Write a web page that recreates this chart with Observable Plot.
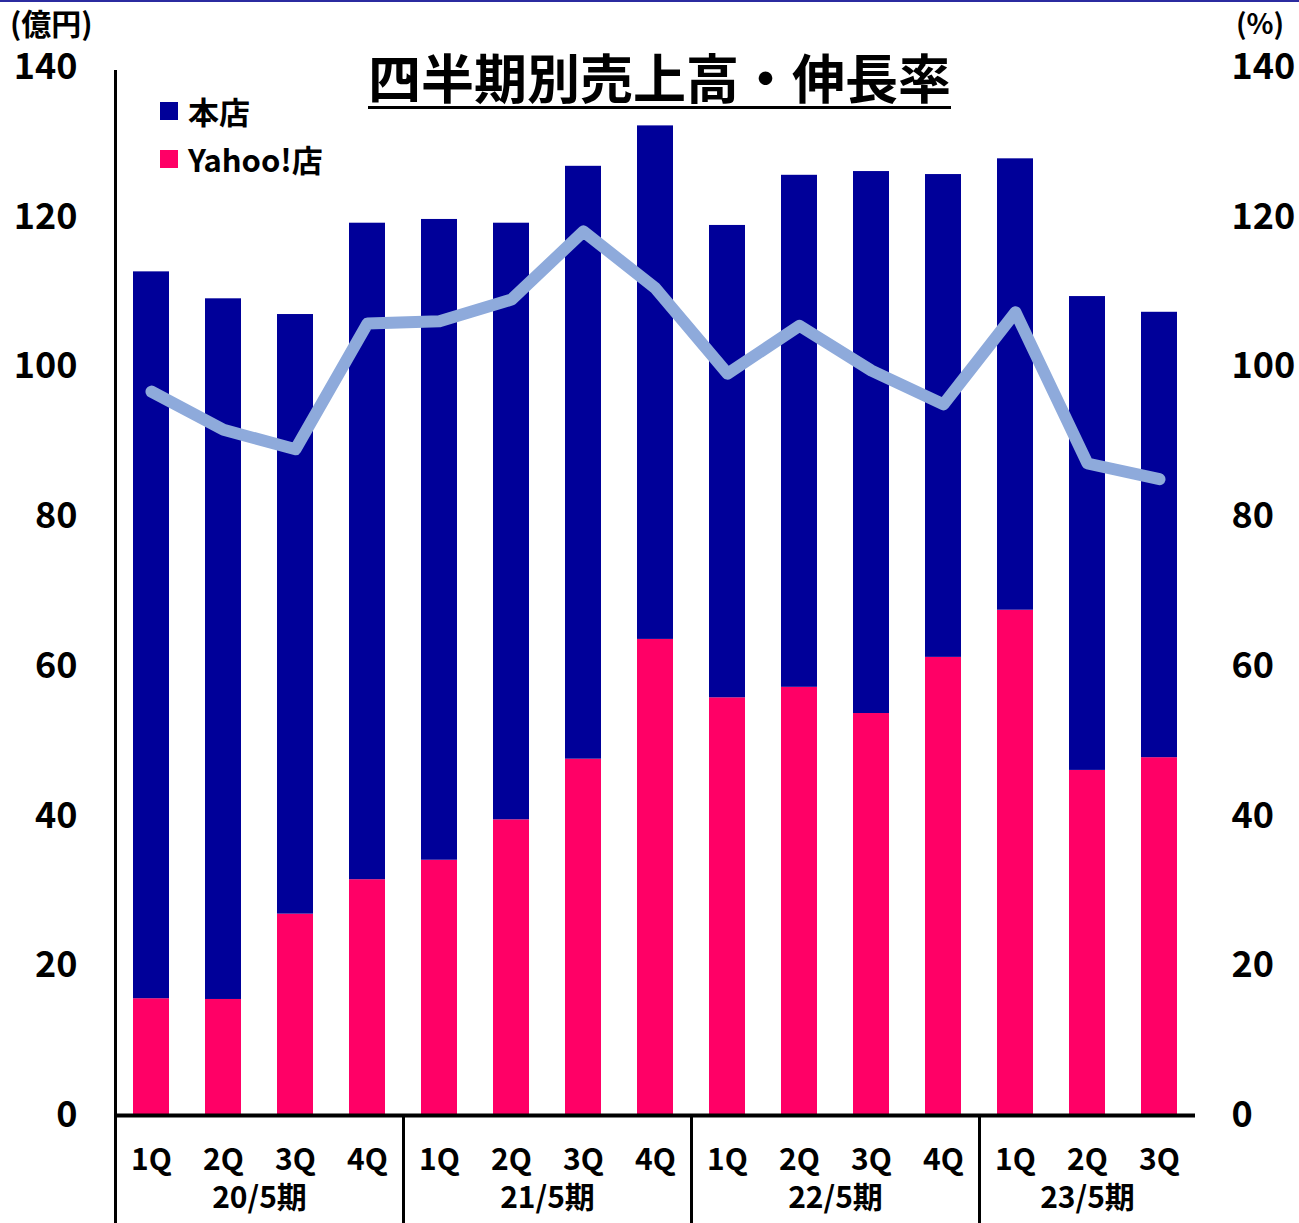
<!DOCTYPE html>
<html><head><meta charset="utf-8">
<script src="https://cdn.jsdelivr.net/npm/d3@7"></script>
<script src="https://cdn.jsdelivr.net/npm/@observablehq/plot@0.6"></script>
<style>
body{margin:0;background:#fff;}
#wrap{position:relative;width:1299px;height:1223px;font-family:'Noto Sans CJK JP',sans-serif;overflow:hidden;background:#fff;}
#topline{position:absolute;left:0;top:0;width:1299px;height:2px;background:#2b2ba0;}
.abs{position:absolute;white-space:nowrap;color:#000;}
#title{left:368px;top:46px;font-size:53px;font-weight:700;line-height:60px;border-bottom:3px solid #000;}
.unit{font-weight:700;top:8px;line-height:28px;}
.leg{font-size:31px;font-weight:700;line-height:34px;left:160px;display:flex;align-items:center;}
.leg i{display:inline-block;width:18px;height:18px;margin-right:10px;}
</style></head>
<body><div id="wrap"><div id="topline"></div></div>
<script>
const quarters = ["1Q","2Q","3Q","4Q","1Q","2Q","3Q","4Q","1Q","2Q","3Q","4Q","1Q","2Q","3Q"];
const periods = ["20/5期","21/5期","22/5期","23/5期"];
const periodQuarterCounts = [4,4,4,3];
const yahoo = [15.6,15.5,26.9,31.5,34.1,39.5,47.6,63.6,55.8,57.2,53.7,61.2,67.5,46.1,47.8];
const honten = [97.1,93.6,80.1,87.7,85.6,79.7,79.2,68.6,63.1,68.4,72.4,64.5,60.3,63.3,59.5];
const growth = [96.7,91.6,89.0,105.8,106.1,109.0,118.1,110.5,99.1,105.5,99.5,95.0,107.3,87.1,85.0];
const yTicks = [0,20,40,60,80,100,120,140];
const seriesNames = ["本店","Yahoo!店"];
const colors = {"本店":"#000099","Yahoo!店":"#ff0066"};
const lineColor = "#8eaadb";

const rows = [];
quarters.forEach((q,i)=>{
  rows.push({i, s:"Yahoo!店", y1:0, y2:yahoo[i]});
  rows.push({i, s:"本店", y1:yahoo[i], y2:yahoo[i]+honten[i]});
});
const pts = growth.map((g,i)=>({i,g}));
const groups = [];
let start = 0;
periods.forEach((p,k)=>{
  const n = periodQuarterCounts[k];
  groups.push({p, center:start+(n-1)/2, sepBefore:start-0.5});
  start += n;
});
const seps = groups.slice(1).map(g=>({x:g.sepBefore}));

const font = "'Noto Sans CJK JP', sans-serif";
const chart = Plot.plot({
  width:1299, height:1223,
  marginLeft:115, marginRight:104, marginTop:67, marginBottom:108,
  style:{fontFamily:font, background:"transparent", overflow:"visible"},
  x:{domain:[-0.5, quarters.length-0.5], axis:null},
  y:{domain:[0,140], axis:null},
  marks:[
    Plot.rectY(rows,{x1:d=>d.i-0.25, x2:d=>d.i+0.25, y1:"y1", y2:"y2", fill:d=>colors[d.s]}),
    Plot.line(pts,{x:"i", y:"g", stroke:lineColor, strokeWidth:12, strokeLinejoin:"round", strokeLinecap:"round"}),
    Plot.axisY({anchor:"left", ticks:yTicks, tickSize:0, tickPadding:38, fontSize:36, fontWeight:700, fill:"#000"}),
    Plot.axisY({anchor:"right", ticks:yTicks, tickSize:0, tickPadding:36, fontSize:36, fontWeight:700, fill:"#000", textAnchor:"start"}),
    Plot.ruleY([0],{stroke:"#000", strokeWidth:4, x1:-0.5, x2:quarters.length-0.5}),
    Plot.ruleX([-0.5],{stroke:"#000", strokeWidth:3, insetTop:3, insetBottom:-108}),
    Plot.ruleX(seps,{x:"x", y1:0, y2:0, stroke:"#000", strokeWidth:3, insetBottom:-108}),
    Plot.text(quarters,{x:(d,i)=>i, frameAnchor:"bottom", text:d=>d, fontSize:30, fontWeight:700, fill:"#000", lineAnchor:"middle", dy:45}),
    Plot.text(groups,{x:"center", frameAnchor:"bottom", text:"p", fontSize:30, fontWeight:700, fill:"#000", lineAnchor:"middle", dy:83})
  ]
});
const wrap = document.getElementById("wrap");
chart.style.position="absolute"; chart.style.left="0"; chart.style.top="0";
wrap.appendChild(chart);

function addDiv(cls, id, html, css){
  const d=document.createElement("div"); d.className="abs "+cls; if(id) d.id=id; d.innerHTML=html;
  Object.assign(d.style, css||{}); wrap.appendChild(d); return d;
}
addDiv("", "title", "四半期別売上高・伸長率");
addDiv("unit", null, "(億円)", {left:"10px", fontSize:"30px"});
addDiv("unit", null, "(%)", {left:"1236px", fontSize:"28px"});
seriesNames.forEach((s,k)=>{
  addDiv("leg", null, `<i style="background:${colors[s]}"></i>${s}`, {top:(94+k*48)+"px"});
});
</script>
</body></html>
